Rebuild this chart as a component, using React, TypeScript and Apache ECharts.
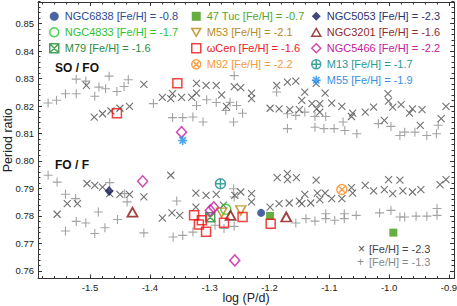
import React, { useEffect, useRef } from 'react';
import * as echarts from 'echarts';

type Pt = [number, number];

// ---- gray comparison stars -------------------------------------------
// "x" : [Fe/H] = -2.3   "+" : [Fe/H] = -1.3
const crossSOFO: Pt[] = [
  [-1.506, 0.8275], [-1.493, 0.8160], [-1.479, 0.8172], [-1.465, 0.8182], [-1.450, 0.8192],
  [-1.434, 0.8199], [-1.410, 0.8279], [-1.379, 0.8232], [-1.365, 0.8227], [-1.362, 0.8245],
  [-1.347, 0.8232], [-1.330, 0.8232], [-1.322, 0.8283], [-1.322, 0.8247], [-1.306, 0.8275],
  [-1.289, 0.8275], [-1.280, 0.8241], [-1.272, 0.8199], [-1.259, 0.8271], [-1.248, 0.8267],
  [-1.230, 0.8247], [-1.230, 0.8227], [-1.199, 0.8192], [-1.188, 0.8275], [-1.184, 0.8190],
  [-1.170, 0.8287], [-1.156, 0.8291], [-1.166, 0.8187], [-1.150, 0.8187], [-1.141, 0.8251],
  [-1.146, 0.8221], [-1.122, 0.8283], [-1.129, 0.8209], [-1.116, 0.8209], [-1.121, 0.8190],
  [-1.116, 0.8178], [-1.107, 0.8247], [-1.096, 0.8211], [-1.079, 0.8199], [-1.061, 0.8174],
  [-1.063, 0.8162], [-1.040, 0.8178], [-1.026, 0.8196], [-1.008, 0.8148], [-1.002, 0.8245],
  [-1.001, 0.8218], [-0.994, 0.8196], [-0.980, 0.8205], [-0.961, 0.8190], [-0.966, 0.8174],
  [-0.945, 0.8187], [-0.948, 0.8130], [-0.913, 0.8154], [-0.905, 0.8199],
];
const crossFOF: Pt[] = [
  [-1.555, 0.7806], [-1.538, 0.7845], [-1.521, 0.7845], [-1.505, 0.7918], [-1.492, 0.7911],
  [-1.479, 0.7905], [-1.467, 0.7881], [-1.450, 0.7878], [-1.434, 0.7878], [-1.410, 0.7869],
  [-1.365, 0.7948], [-1.379, 0.7792], [-1.363, 0.7811], [-1.350, 0.7802], [-1.323, 0.7883],
  [-1.323, 0.7832], [-1.306, 0.7875], [-1.289, 0.7878], [-1.248, 0.7887], [-1.230, 0.7881],
  [-1.230, 0.7851], [-1.199, 0.7832], [-1.187, 0.7939], [-1.170, 0.7954], [-1.170, 0.7932],
  [-1.155, 0.7939], [-1.122, 0.7930], [-1.184, 0.7845], [-1.167, 0.7847], [-1.150, 0.7854],
  [-1.146, 0.7845], [-1.141, 0.7878], [-1.131, 0.7847], [-1.120, 0.7883], [-1.116, 0.7859],
  [-1.107, 0.7883], [-1.096, 0.7863], [-1.079, 0.7863], [-1.063, 0.7903], [-1.061, 0.7883],
  [-1.040, 0.7911], [-1.026, 0.7891], [-1.008, 0.7896], [-1.001, 0.7932], [-0.994, 0.7881],
  [-0.982, 0.7930], [-0.977, 0.7891], [-0.961, 0.7887], [-0.947, 0.7896], [-0.915, 0.7914],
  [-0.905, 0.7932], [-1.277, 0.7839], [-1.258, 0.7875],
];
const plusSOFO: Pt[] = [
  [-1.570, 0.8211], [-1.556, 0.8221], [-1.541, 0.8245], [-1.523, 0.8298], [-1.523, 0.8245],
  [-1.507, 0.8291], [-1.492, 0.8236], [-1.485, 0.8269], [-1.474, 0.8263], [-1.468, 0.8309],
  [-1.455, 0.8253], [-1.443, 0.8271], [-1.436, 0.8296], [-1.394, 0.8209], [-1.362, 0.8158],
  [-1.345, 0.8158], [-1.328, 0.8160], [-1.311, 0.8142], [-1.322, 0.8202], [-1.305, 0.8223],
  [-1.289, 0.8213], [-1.273, 0.8184], [-1.259, 0.8311], [-1.266, 0.8214], [-1.255, 0.8202],
  [-1.245, 0.8174], [-1.260, 0.8142], [-1.188, 0.8251], [-1.170, 0.8172], [-1.170, 0.8118],
  [-1.156, 0.8166], [-1.141, 0.8178], [-1.124, 0.8162], [-1.124, 0.8123], [-1.106, 0.8162],
  [-1.109, 0.8118], [-1.092, 0.8118], [-1.077, 0.8142], [-1.074, 0.8111], [-1.054, 0.8099],
  [-1.018, 0.8136], [-0.997, 0.8126], [-0.982, 0.8093], [-0.974, 0.8105], [-0.957, 0.8105],
  [-0.937, 0.8093], [-0.921, 0.8099], [-0.918, 0.8130],
];
const plusFOF: Pt[] = [
  [-1.570, 0.7948], [-1.555, 0.7923], [-1.541, 0.7879], [-1.524, 0.7863], [-1.541, 0.7745],
  [-1.523, 0.7780], [-1.507, 0.7774], [-1.492, 0.7736], [-1.486, 0.7814], [-1.475, 0.7757],
  [-1.467, 0.7921], [-1.454, 0.7787], [-1.442, 0.7881], [-1.438, 0.7851], [-1.410, 0.7738],
  [-1.355, 0.7854], [-1.361, 0.7723], [-1.345, 0.7729], [-1.328, 0.7741], [-1.260, 0.7899],
  [-1.259, 0.7869], [-1.276, 0.7754], [-1.259, 0.7762], [-1.291, 0.7766], [-1.156, 0.7774],
  [-1.139, 0.7790], [-1.124, 0.7781], [-1.106, 0.7790], [-1.106, 0.7808], [-1.091, 0.7784],
  [-1.075, 0.7808], [-1.075, 0.7790], [-1.055, 0.7802], [-1.016, 0.7811], [-0.997, 0.7820],
  [-0.982, 0.7796], [-0.974, 0.7796], [-0.955, 0.7799], [-0.937, 0.7799], [-0.920, 0.7827],
  [-0.920, 0.7802],
];

// ---- globular clusters ------------------------------------------------
const ngc6838: Pt[] = [[-1.214, 0.7811]];
const tuc47: Pt[] = [[-1.199, 0.7800], [-0.993, 0.7739]];
const ngc5053: Pt[] = [[-1.468, 0.7891]];
const ngc4833: Pt[] = [[-1.273, 0.7824]];
const m53: Pt[] = [[-1.248, 0.7820], [-1.280, 0.7812]];
const ngc3201: Pt[] = [[-1.429, 0.7814], [-1.265, 0.7802], [-1.172, 0.7796]];
const m79: Pt[] = [[-1.299, 0.7795]];
const omegaCen: Pt[] = [
  [-1.455, 0.8174], [-1.354, 0.8283], [-1.326, 0.7802], [-1.318, 0.7769], [-1.313, 0.7784],
  [-1.306, 0.7742], [-1.276, 0.7775], [-1.245, 0.7796], [-1.198, 0.7771],
];
const ngc5466: Pt[] = [[-1.347, 0.8105], [-1.412, 0.7926], [-1.299, 0.7820], [-1.293, 0.7831], [-1.258, 0.7638]];
const m92: Pt[] = [[-1.079, 0.7896]];
const m13: Pt[] = [[-1.282, 0.7917]];
const m55: Pt[] = [[-1.345, 0.8075]];

const clusterNames = ['NGC6838', '47 Tuc', 'NGC5053', 'NGC4833', 'M53', 'NGC3201', 'M79', 'ωCen', 'NGC5466', 'M92', 'M13', 'M55'];
const clusterFeH = [-0.8, -0.7, -2.3, -1.7, -2.1, -1.6, -1.6, -1.6, -2.2, -2.2, -1.7, -1.9];
const clusterPoints = [ngc6838, tuc47, ngc5053, ngc4833, m53, ngc3201, m79, omegaCen, ngc5466, m92, m13, m55];
const legendColumns = [
  ['NGC6838', 'NGC4833', 'M79'],
  ['47 Tuc', 'M53', 'ωCen', 'M92'],
  ['NGC5053', 'NGC3201', 'NGC5466', 'M13', 'M55'],
];
const grayFeH = [-2.3, -1.3];
const modeLabels = ['SO / FO', 'FO / F'];

// ---- styles ------------------------------------------------------------
const SYM_CROSS = 'path://M0,0L10,10M0,10L10,0';
const SYM_PLUS = 'path://M5,0L5,10M0,5L10,5';
const SYM_DOWNTRI = 'path://M0,0L10,0L5,8.66Z';
const SYM_UPTRI = 'path://M5,0L10,8.66L0,8.66Z';
const SYM_CIRCLE_X = 'path://M10,5A5 5 0 1 1 0,5A5 5 0 1 1 10,5ZM1.46,1.46L8.54,8.54M8.54,1.46L1.46,8.54';
const SYM_CIRCLE_PLUS = 'path://M10,5A5 5 0 1 1 0,5A5 5 0 1 1 10,5ZM5,0L5,10M0,5L10,5';
const SYM_SQUARE_X = 'path://M0,0L10,0L10,10L0,10ZM0,0L10,10M10,0L0,10';
const SYM_STAR = 'path://M5,0L5,10M0,5L10,5M1.4,1.4L8.6,8.6M8.6,1.4L1.4,8.6';

const clusterStyle: Record<string, { symbol: string; size: number | number[]; color: string; text: string; filled: boolean; lw?: number }> = {
  'NGC6838': { symbol: 'circle', size: 8, color: '#1c3c8c', text: '#2d4a92', filled: true },
  '47 Tuc': { symbol: 'rect', size: 8, color: '#3f9a0f', text: '#4fa82e', filled: true },
  'NGC5053': { symbol: 'diamond', size: [9, 10], color: '#161a5c', text: '#2e3370', filled: true },
  'NGC4833': { symbol: 'circle', size: 10, color: '#1ec81e', text: '#2ec32e', filled: false },
  'M53': { symbol: SYM_DOWNTRI, size: [10, 9], color: '#b8860b', text: '#b88a1e', filled: false },
  'NGC3201': { symbol: SYM_UPTRI, size: [10, 9], color: '#8b1212', text: '#8e2a2a', filled: false, lw: 1.8 },
  'M79': { symbol: SYM_SQUARE_X, size: 9, color: '#1b8a2a', text: '#2c8c3a', filled: false },
  'ωCen': { symbol: 'rect', size: 9, color: '#f01010', text: '#ee2020', filled: false },
  'NGC5466': { symbol: 'diamond', size: [10, 11], color: '#c81e9e', text: '#c4209c', filled: false },
  'M92': { symbol: SYM_CIRCLE_X, size: 10, color: '#ff8a1a', text: '#f59a3a', filled: false },
  'M13': { symbol: SYM_CIRCLE_PLUS, size: 10, color: '#138a8a', text: '#2a9a96', filled: false },
  'M55': { symbol: SYM_STAR, size: 9, color: '#2090f0', text: '#3a8fe0', filled: false },
};

const FONT = "'Liberation Sans', Arial, Helvetica, sans-serif";
const X_MIN = -1.5869, X_MAX = -0.8916, Y_MIN = 0.7572, Y_MAX = 0.8579;
const AXIS_COLOR = '#333';
const CROSS_COLOR = '#4d4d4d';
const PLUS_COLOR = '#8c8c8c';

const label = (i: number) => `${clusterNames[i]} [Fe/H] = ${clusterFeH[i]}`;

export default function App() {
  const ref = useRef<HTMLDivElement>(null);
  useEffect(() => {
    if (!ref.current) return;
    const chart = echarts.init(ref.current, undefined, { renderer: 'svg' });
    const lineStyle = { color: AXIS_COLOR, width: 1 };
    const hiddenTick = { show: true, inside: true, length: 0.01, lineStyle: { color: 'transparent', width: 0 } };

    const mainX = (pos: 'bottom' | 'top', labels: boolean) => ({
      type: 'value', gridIndex: 0, position: pos, min: X_MIN, max: X_MAX,
      splitNumber: 7, minInterval: 0.1, maxInterval: 0.1,
      axisLine: { show: true, onZero: false, lineStyle },
      axisTick: { show: true, inside: true, length: 4, lineStyle },
      splitLine: { show: false },
      axisLabel: {
        show: labels, margin: 3.5, fontSize: 9.5, color: '#222', fontFamily: FONT,
        formatter: (v: number) => v.toFixed(1), showMinLabel: false, showMaxLabel: false,
      },
      ...(labels ? { name: 'log (P/d)', nameLocation: 'middle', nameGap: 13, nameMoveOverlap: false, nameTextStyle: { fontSize: 12.5, color: '#222', fontFamily: FONT } } : {}),
    });
    const mainY = (pos: 'left' | 'right', labels: boolean) => ({
      type: 'value', gridIndex: 0, position: pos, min: Y_MIN, max: Y_MAX,
      splitNumber: 10, minInterval: 0.01, maxInterval: 0.01,
      axisLine: { show: true, onZero: false, lineStyle },
      axisTick: { show: true, inside: true, length: 4, lineStyle },
      splitLine: { show: false },
      axisLabel: {
        show: labels, margin: 4, fontSize: 9.5, color: '#222', fontFamily: FONT,
        formatter: (v: number) => v.toFixed(2), showMinLabel: false, showMaxLabel: false,
      },
      ...(labels ? { name: 'Period ratio', nameLocation: 'middle', nameGap: 24, nameMoveOverlap: false, nameTextStyle: { fontSize: 12.5, color: '#222', fontFamily: FONT } } : {}),
    });
    const minorX = (pos: 'bottom' | 'top') => ({
      type: 'value', gridIndex: 1, position: pos, min: -1.6, max: -0.9, splitNumber: 7,
      axisLine: { show: false, onZero: false }, axisTick: hiddenTick,
      axisLabel: { show: false }, splitLine: { show: false },
      minorTick: { show: true, splitNumber: 5, length: 2.5, lineStyle },
    });
    const minorY = (pos: 'left' | 'right') => ({
      type: 'value', gridIndex: 2, position: pos, min: 0.76, max: 0.86, splitNumber: 10,
      axisLine: { show: false, onZero: false }, axisTick: hiddenTick,
      axisLabel: { show: false }, splitLine: { show: false },
      minorTick: { show: true, splitNumber: 5, length: 2.5, lineStyle },
    });

    const graySeries = (name: string, data: Pt[], symbol: string, size: number, color: string) => ({
      type: 'scatter', name, data, symbol, symbolSize: size, xAxisIndex: 0, yAxisIndex: 0,
      itemStyle: { color: 'transparent', borderColor: color, borderWidth: 1.1 },
      emphasis: { disabled: true }, silent: true, z: 2,
    });
    const grayNames = grayFeH.map((f) => `[Fe/H] = ${f}`);

    const clusterSeries = clusterNames.map((n, i) => {
      const s = clusterStyle[n];
      return {
        type: 'scatter', name: label(i), data: clusterPoints[i], symbol: s.symbol, symbolSize: s.size,
        xAxisIndex: 0, yAxisIndex: 0,
        itemStyle: s.filled
          ? { color: s.color }
          : { color: 'transparent', borderColor: s.color, borderWidth: s.lw ?? 1.5 },
        emphasis: { disabled: true }, silent: true, z: 3,
      };
    });

    const legendLefts = [49, 191, 311];
    const legends: any[] = legendColumns.map((col, ci) => ({
      orient: 'vertical', left: legendLefts[ci], top: 10.8, padding: 0,
      itemWidth: 9, itemHeight: 9, itemGap: 5, selectedMode: false,
      itemStyle: { borderWidth: 1.5 },
      textStyle: { fontSize: 11, fontFamily: FONT, lineHeight: 9, padding: [0, 0, 0, 1] },
      data: col.map((n) => {
        const i = clusterNames.indexOf(n);
        return { name: label(i), textStyle: { color: clusterStyle[n].text } };
      }),
    }));

    const txt = (x: number, y: number, text: string, fill: string, size: number, bold = false) => ({
      type: 'text', x, y, silent: true,
      style: { text, fontSize: size, fontWeight: bold ? 'bold' : 'normal', fill, fontFamily: FONT, verticalAlign: 'middle' },
    });

    const gridBase = { outerBoundsMode: 'none', containLabel: false };
    chart.setOption({
      animation: false,
      backgroundColor: '#fff',
      textStyle: { fontFamily: FONT },
      grid: [
        { ...gridBase, left: 38, right: 3, top: 2, bottom: 27.5 },
        { ...gridBase, left: 30.17, right: 8, top: 2, bottom: 27.5 },
        { ...gridBase, left: 38, right: 3, top: -3.77, bottom: 35.19 },
      ],
      xAxis: [
        mainX('bottom', true), mainX('top', false),
        minorX('bottom'), minorX('top'),
        { type: 'value', gridIndex: 2, show: false, min: 0, max: 1 },
      ],
      yAxis: [
        mainY('left', true), mainY('right', false),
        { type: 'value', gridIndex: 1, show: false, min: 0, max: 1 },
        minorY('left'), minorY('right'),
      ],
      legend: legends,
      graphic: [
        txt(55, 67.5, modeLabels[0], '#111', 12, true),
        txt(55, 165, modeLabels[1], '#111', 12, true),
        txt(358, 248.5, '\u00d7', CROSS_COLOR, 12),
        txt(369, 248.5, grayNames[0], '#444', 11),
        txt(357, 261.8, '+', PLUS_COLOR, 12),
        txt(369, 261.8, grayNames[1], '#888', 11),
      ],
      series: [
        graySeries(grayNames[1], plusSOFO, SYM_PLUS, 9, PLUS_COLOR),
        graySeries(grayNames[1], plusFOF, SYM_PLUS, 9, PLUS_COLOR),
        graySeries(grayNames[0], crossSOFO, SYM_CROSS, 7, CROSS_COLOR),
        graySeries(grayNames[0], crossFOF, SYM_CROSS, 7, CROSS_COLOR),
        ...clusterSeries,
      ],
    });
    return () => chart.dispose();
  }, []);
  return <div ref={ref} style={{ position: 'fixed', left: 0, top: 0, width: 457, height: 306, background: '#fff' }} />;
}
